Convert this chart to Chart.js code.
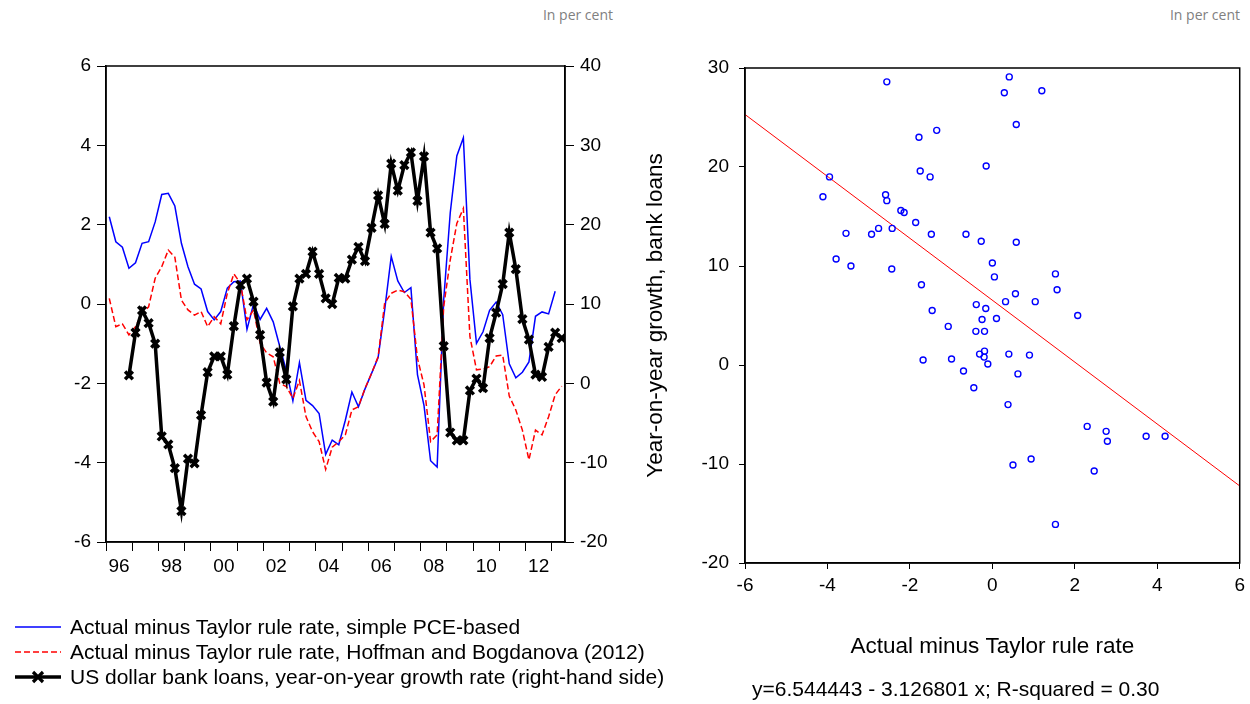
<!DOCTYPE html>
<html>
<head>
<meta charset="utf-8">
<script src="https://cdn.jsdelivr.net/npm/chart.js@4.4.1/dist/chart.umd.min.js"></script>
<style>
  body { margin: 0; width: 1250px; height: 704px; background: #fff; position: relative; overflow: hidden;
         font-family: "Liberation Sans", Arial, sans-serif; color: #000; }
  #leftChart { position: absolute; left: 0; top: 0; }
  #rightChart { position: absolute; left: 640px; top: 0; }
  .note { position: absolute; top: 5px; font-family: "Open Sans", sans-serif; font-size: 14px; color: #808080; text-align: right; width: 120px; }
  #legend { position: absolute; left: 15px; top: 614px; font-size: 21px; }
  .row { display: flex; align-items: center; height: 25px; white-space: nowrap; }
  .row svg { margin-right: 9px; }
  #fitText { position: absolute; left: 752px; top: 677px; font-size: 21px; white-space: nowrap; }
</style>
</head>
<body>
<div class="note" style="left:493px">In per cent</div>
<div class="note" style="left:1120px">In per cent</div>
<canvas id="leftChart" width="680" height="600"></canvas>
<canvas id="rightChart" width="610" height="704"></canvas>

<div id="legend">
  <div class="row"><svg width="46" height="12"><line x1="0" y1="6" x2="46" y2="6" stroke="#0000ff" stroke-width="1.5"/></svg>Actual minus Taylor rule rate, simple PCE-based</div>
  <div class="row"><svg width="46" height="12"><line x1="0" y1="6" x2="46" y2="6" stroke="#ff0000" stroke-width="1.5" stroke-dasharray="6 3"/></svg>Actual minus Taylor rule rate, Hoffman and Bogdanova (2012)</div>
  <div class="row"><svg width="46" height="14"><line x1="0" y1="7" x2="46" y2="7" stroke="#000" stroke-width="3.5"/><path d="M18 2 L28 12 M28 2 L18 12" stroke="#000" stroke-width="3.2"/></svg>US dollar bank loans, year-on-year growth rate (right-hand side)</div>
</div>
<div id="fitText">y=6.544443 - 3.126801 x; R-squared = 0.30</div>

<script>
// quarterly observations, 1996Q1 onwards
const startYear = 1996;

// Actual minus Taylor rule rate, simple PCE-based (left axis)
const pceGap = [2.20, 1.57, 1.43, 0.90, 1.04, 1.53, 1.57, 2.07, 2.76, 2.79,
  2.47, 1.53, 0.94, 0.50, 0.38, -0.19, -0.40, -0.19, 0.40, 0.56,
  0.58, -0.64, 0.00, -0.39, -0.11, -0.45, -1.07, -1.68, -2.44, -1.48,
  -2.43, -2.56, -2.76, -3.79, -3.43, -3.55, -2.93, -2.22, -2.59, -2.14,
  -1.75, -1.35, -0.15, 1.20, 0.58, 0.29, 0.41, -1.78, -2.56, -3.95,
  -4.11, 0.10, 2.30, 3.73, 4.19, 0.62, -0.99, -0.70, -0.16, 0.05,
  -0.27, -1.51, -1.86, -1.72, -1.46, -0.31, -0.20, -0.25, 0.32];

// Actual minus Taylor rule rate, Hoffman and Bogdanova (2012) (left axis)
const hbGap = [0.14, -0.57, -0.50, -0.78, -0.57, -0.24, -0.07, 0.65, 0.94, 1.36,
  1.18, 0.10, -0.15, -0.28, -0.19, -0.57, -0.32, -0.50, 0.27, 0.76,
  0.52, -0.40, -0.15, -0.99, -1.23, -1.33, -2.00, -2.08, -2.38, -1.93,
  -2.84, -3.22, -3.47, -4.17, -3.61, -3.47, -3.30, -2.67, -2.59, -2.13,
  -1.75, -1.33, 0.02, 0.27, 0.35, 0.31, 0.12, -1.37, -2.04, -3.47,
  -3.30, -0.07, 1.11, 2.03, 2.41, -0.82, -1.66, -1.64, -1.58, -1.31,
  -1.29, -2.32, -2.67, -3.18, -3.93, -3.18, -3.30, -2.84, -2.29, -2.07];

// US dollar bank loans, yoy growth (right axis)
const loanGrowth = [null, null, null, 1.0, 6.4, 9.2, 7.6, 5.0, -6.7, -7.7,
  -10.7, -16.1, -9.5, -10.1, -4.0, 1.4, 3.4, 3.4, 1.1, 7.2,
  12.4, 13.2, 10.3, 6.1, 0.1, -2.3, 3.9, 0.5, 9.7, 13.2,
  13.8, 16.6, 13.8, 10.7, 10.0, 13.3, 13.2, 15.6, 17.2, 15.4,
  19.6, 23.7, 20.1, 27.7, 24.3, 27.5, 29.1, 23.0, 28.6, 19.0,
  17.0, 4.7, -6.2, -7.2, -7.2, -0.9, 0.6, -0.6, 5.7, 8.9,
  12.5, 19.0, 14.4, 8.1, 5.5, 1.1, 0.8, 4.6, 6.4, 5.7];

const xTickYears = [1996, 1997, 1998, 1999, 2000, 2001, 2002, 2003, 2004, 2005,
  2006, 2007, 2008, 2009, 2010, 2011, 2012, 2013];
const xTickLabels = ['96', '', '98', '', '00', '', '02', '', '04', '',
  '06', '', '08', '', '10', '', '12', ''];

// regression shown on the right panel
const fitIntercept = 6.544443;
const fitSlope = -3.126801;
const fitX = [-6, 6];

const FONT = "'Liberation Sans', Arial, sans-serif";

const quarterX = i => startYear + (i + 0.5) / 4;
const toPoints = arr => arr.map((v, i) => ({ x: quarterX(i), y: v }));

// frame around the plot area
const boxPlugin = {
    id: "box",
    afterDraw(chart) {
        const a = chart.chartArea;
        const ctx = chart.ctx;
        ctx.save();
        ctx.strokeStyle = "#000";
        ctx.lineWidth = 1.5;
        ctx.strokeRect(a.left, a.top, a.right - a.left, a.bottom - a.top);
        ctx.restore();
    }
};

// Left panel: time series
new Chart(document.getElementById("leftChart"), {
    type: "line",
    data: {
        datasets: [
            {
                data: toPoints(loanGrowth),
                yAxisID: "y1",
                borderColor: "#000",
                borderWidth: 3.5,
                pointStyle: "crossRot",
                pointRadius: 5.5,
                pointBorderWidth: 3.5,
                pointBorderColor: "#000",
                tension: 0
            },
            {
                data: toPoints(hbGap),
                yAxisID: "y",
                borderColor: "#ff0000",
                borderWidth: 1.5,
                borderDash: [6, 3],
                pointRadius: 0,
                tension: 0
            },
            {
                data: toPoints(pceGap),
                yAxisID: "y",
                borderColor: "#0000ff",
                borderWidth: 1.5,
                pointRadius: 0,
                tension: 0
            }
        ]
    },
    options: {
        responsive: false,
        animation: false,
        layout: { padding: { left: 0, right: 55, top: 66, bottom: 0 } },
        plugins: { legend: { display: false }, tooltip: { enabled: false } },
        scales: {
            x: {
                type: "linear",
                min: 1996,
                max: 2013.5,
                afterBuildTicks: s => { s.ticks = xTickYears.map(v => ({ value: v })); },
                afterFit: s => { s.height = 58; },
                ticks: {
                    autoSkip: false,
                    maxRotation: 0,
                    labelOffset: 13,
                    padding: 4,
                    color: "#000",
                    font: { family: FONT, size: 19 },
                    callback: (v, i) => xTickLabels[i]
                },
                grid: { drawOnChartArea: false, drawTicks: true, tickLength: 9, color: "#000" },
                border: { display: true, color: "#000", width: 1.5 }
            },
            y: {
                position: "left",
                min: -6,
                max: 6,
                afterFit: s => { s.width = 106; },
                ticks: { stepSize: 2, padding: 6, color: "#000", font: { family: FONT, size: 19 } },
                grid: { drawOnChartArea: false, drawTicks: true, tickLength: 9, color: "#000" },
                border: { display: true, color: "#000", width: 1.5 }
            },
            y1: {
                position: "right",
                min: -20,
                max: 40,
                afterFit: s => { s.width = 60; },
                ticks: { stepSize: 10, padding: 6, color: "#000", font: { family: FONT, size: 19 } },
                grid: { drawOnChartArea: false, drawTicks: true, tickLength: 9, color: "#000" },
                border: { display: true, color: "#000", width: 1.5 }
            }
        }
    },
    plugins: [boxPlugin]
});

// Right panel: scatter of loan growth against the PCE-based gap
const scatterPoints = [];
pceGap.forEach((g, i) => {
    if (g !== null && loanGrowth[i] !== null && loanGrowth[i] !== undefined) {
        scatterPoints.push({ x: g, y: loanGrowth[i] });
    }
});
const fitPoints = fitX.map(x => ({ x: x, y: fitIntercept + fitSlope * x }));

new Chart(document.getElementById("rightChart"), {
    type: "scatter",
    data: {
        datasets: [
            {
                data: scatterPoints,
                pointStyle: "circle",
                pointRadius: 3,
                pointBorderWidth: 1.4,
                pointBorderColor: "#0000ff",
                pointBackgroundColor: "rgba(0,0,0,0)"
            },
            {
                type: "line",
                data: fitPoints,
                borderColor: "#ff0000",
                borderWidth: 1,
                pointRadius: 0
            }
        ]
    },
    options: {
        responsive: false,
        animation: false,
        layout: { padding: { left: 0, right: 9, top: 68, bottom: 41 } },
        plugins: { legend: { display: false }, tooltip: { enabled: false } },
        scales: {
            x: {
                type: "linear",
                min: -6,
                max: 6,
                afterFit: s => { s.height = 100; },
                ticks: { stepSize: 2, padding: 5, color: "#000", font: { family: FONT, size: 19 } },
                grid: { drawOnChartArea: false, drawTicks: true, tickLength: 6, color: "#000" },
                border: { display: true, color: "#000", width: 1.5 },
                title: {
                    display: true,
                    text: "Actual minus Taylor rule rate",
                    color: "#000",
                    font: { family: FONT, size: 22.5 },
                    padding: { top: 0, bottom: 3 }
                }
            },
            y: {
                type: "linear",
                min: -20,
                max: 30,
                afterFit: s => { s.width = 105; },
                ticks: { stepSize: 10, padding: 10, color: "#000", font: { family: FONT, size: 19 } },
                grid: { drawOnChartArea: false, drawTicks: true, tickLength: 6, color: "#000" },
                border: { display: true, color: "#000", width: 1.5 },
                title: {
                    display: true,
                    text: "Year-on-year growth, bank loans",
                    color: "#000",
                    font: { family: FONT, size: 22.5 },
                    padding: { top: 2, bottom: 0 }
                }
            }
        }
    },
    plugins: [boxPlugin]
});
</script>
</body>
</html>
